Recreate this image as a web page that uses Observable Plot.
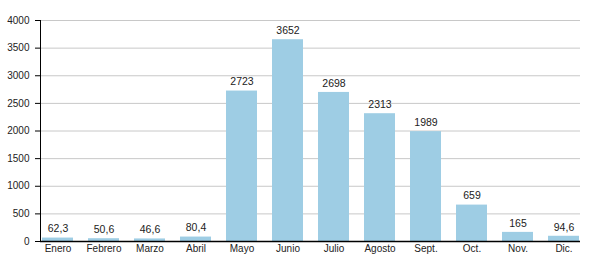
<!DOCTYPE html>
<html>
<head>
<meta charset="utf-8">
<script src="https://cdn.jsdelivr.net/npm/d3@7"></script>
<script src="https://cdn.jsdelivr.net/npm/@observablehq/plot@0.6"></script>
<style>
  body { margin: 0; background: #fff; }
  #chart svg { font-family: "Liberation Sans", Arial, sans-serif; }
</style>
</head>
<body>
<div id="chart"></div>
<script>
const months = ["Enero","Febrero","Marzo","Abril","Mayo","Junio","Julio","Agosto","Sept.","Oct.","Nov.","Dic."];
const values = [62.3, 50.6, 46.6, 80.4, 2723, 3652, 2698, 2313, 1989, 659, 165, 94.6];
const yTicks = [0, 500, 1000, 1500, 2000, 2500, 3000, 3500, 4000];

const data = months.map((m, i) => ({month: m, value: values[i]}));
const fmt = v => String(v).replace(".", ",");

const chart = Plot.plot({
  width: 600,
  height: 280,
  marginTop: 20,
  marginBottom: 39,
  marginLeft: 40,
  marginRight: 20,
  style: {fontFamily: "'Liberation Sans', Arial, sans-serif", fontSize: "10px", color: "#222", background: "#fff"},
  x: {domain: months, paddingInner: 0.33, paddingOuter: 0, label: null},
  y: {domain: [0, 4000], label: null},
  marks: [
    Plot.gridY(yTicks, {stroke: "#c8c8c8", strokeOpacity: 1}),
    Plot.barY(data, {x: "month", y: "value", fill: "#9ecde4"}),
    Plot.text(data, {x: "month", y: "value", text: d => fmt(d.value), dy: -9, fill: "#222", fontSize: 10.5}),
    Plot.axisY(yTicks, {tickSize: 5, tickPadding: 6, stroke: "#000", tickFormat: d => String(d), label: null}),
    Plot.frame({anchor: "left", stroke: "#000"}),
    Plot.ruleY([0], {stroke: "#000", strokeWidth: 1.5}),
    Plot.axisX({tickSize: 0, tickPadding: 3, label: null})
  ]
});
document.getElementById("chart").appendChild(chart);
</script>
</body>
</html>
